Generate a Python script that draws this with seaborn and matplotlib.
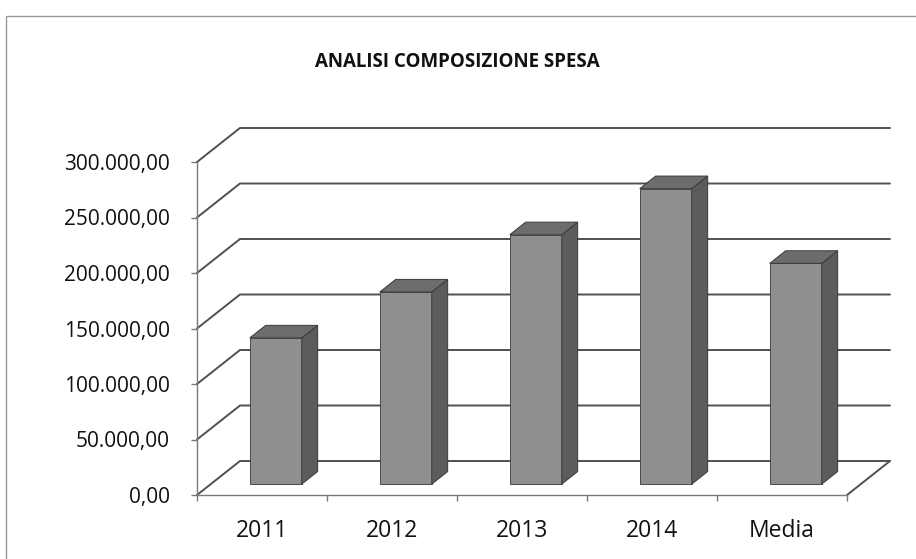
import numpy as np
import pandas as pd
import matplotlib
matplotlib.use("Agg")
import matplotlib.pyplot as plt
import seaborn as sns
from matplotlib.patches import Polygon, Rectangle
from matplotlib.ticker import FuncFormatter, FixedLocator

# ---- data ----
categories = ["2011", "2012", "2013", "2014", "Media"]
values = [131700, 173100, 224700, 266200, 198900]
y_ticks = [0, 50000, 100000, 150000, 200000, 250000, 300000]
title = "ANALISI COMPOSIZIONE SPESA"

sns.set_theme(style="white")
plt.rcParams['font.family'] = ['Open Sans', 'DejaVu Sans']

W, H, DPI = 916, 559, 100
fig = plt.figure(figsize=(W / DPI, H / DPI), dpi=DPI)
fig.patch.set_facecolor("white")
ax = fig.add_axes([197 / W, (H - 495) / H, 650 / W, 333 / H])
ax.set_facecolor("none")

df = pd.DataFrame({"cat": categories, "val": values})
sns.barplot(data=df, x="cat", y="val", color="#8f8f8f", width=0.4,
            saturation=1, ax=ax, edgecolor="#4a4a4a", linewidth=0.7, zorder=3)
ax.set_xlim(-0.5, len(categories) - 0.5)
ax.set_ylim(y_ticks[0], y_ticks[-1])

# depth of the 3D box (pixels -> data units)
DX_PX, DY_PX = 43, 34
inv = ax.transData.inverted()
o = ax.transData.transform((0, 0))
d = inv.transform(o + np.array([DX_PX, DY_PX]))
dx, dy = d[0], d[1]

grid_col = "#505050"
x_left, x_right = -0.5, len(categories) - 0.5
# back-wall gridlines with slanted side-wall segment
for yt in y_ticks:
    ax.plot([x_left, x_left + dx, x_right + dx], [yt, yt + dy, yt + dy],
            color=grid_col, lw=1.4, clip_on=False, zorder=1, solid_joinstyle="miter")
# floor right edge
ax.plot([x_right, x_right + dx], [0, dy], color=grid_col, lw=1.4, clip_on=False, zorder=1)

# 3D bars: shift front faces into depth and add side/top faces
f_front, f_depth = 0.32, 0.37
for p in list(ax.patches):
    x0 = p.get_x() + f_front * dx
    w = p.get_width()
    h = p.get_height()
    y0 = f_front * dy
    p.set_x(x0)
    p.set_y(y0)
    x1 = x0 + w
    y1 = y0 + h
    bx, by = f_depth * dx, f_depth * dy
    side = Polygon([(x1, y0), (x1, y1), (x1 + bx, y1 + by), (x1 + bx, y0 + by)],
                   closed=True, facecolor="#5c5c5c", edgecolor="#3a3a3a", lw=0.7,
                   zorder=3, clip_on=False)
    top = Polygon([(x0, y1), (x1, y1), (x1 + bx, y1 + by), (x0 + bx, y1 + by)],
                  closed=True, facecolor="#6c6c6c", edgecolor="#3a3a3a", lw=0.7,
                  zorder=3, clip_on=False)
    ax.add_patch(side)
    ax.add_patch(top)

# axes styling
for s in ["top", "right"]:
    ax.spines[s].set_visible(False)
for s in ["left", "bottom"]:
    ax.spines[s].set_color("#7a7a7a")
    ax.spines[s].set_linewidth(1.0)
ax.set_xlabel("")
ax.set_ylabel("")
ax.yaxis.set_major_locator(FixedLocator(y_ticks))
ax.yaxis.set_major_formatter(FuncFormatter(
    lambda v, pos: f"{v:,.2f}".replace(",", "X").replace(".", ",").replace("X", ".")))
ax.tick_params(axis="y", which="major", left=True, length=4.5, width=1.0,
               color="#7a7a7a", pad=15, labelsize=15, labelcolor="#111111")
ax.set_xticks(range(len(categories)))
ax.set_xticklabels(categories)
ax.set_xticks(np.arange(-0.5, len(categories), 1.0), minor=True)
ax.tick_params(axis="x", which="major", bottom=False, length=0, pad=17.5,
               labelsize=16.5, labelcolor="#111111")
ax.tick_params(axis="x", which="minor", bottom=True, length=4, width=1.0,
               color="#7a7a7a")

# title
fig.text(457 / W, 1 - 62 / H, title, ha="center", va="center",
         fontsize=13.5, fontweight="bold", color="#111111")

# chart-area border
fig.add_artist(Rectangle((6 / W, -0.1), 1.2, 1.1 - 16 / H,
                         transform=fig.transFigure, fill=False,
                         edgecolor="#9a9a9a", lw=1.0))

fig.savefig("out.png", dpi=DPI, facecolor="white")
